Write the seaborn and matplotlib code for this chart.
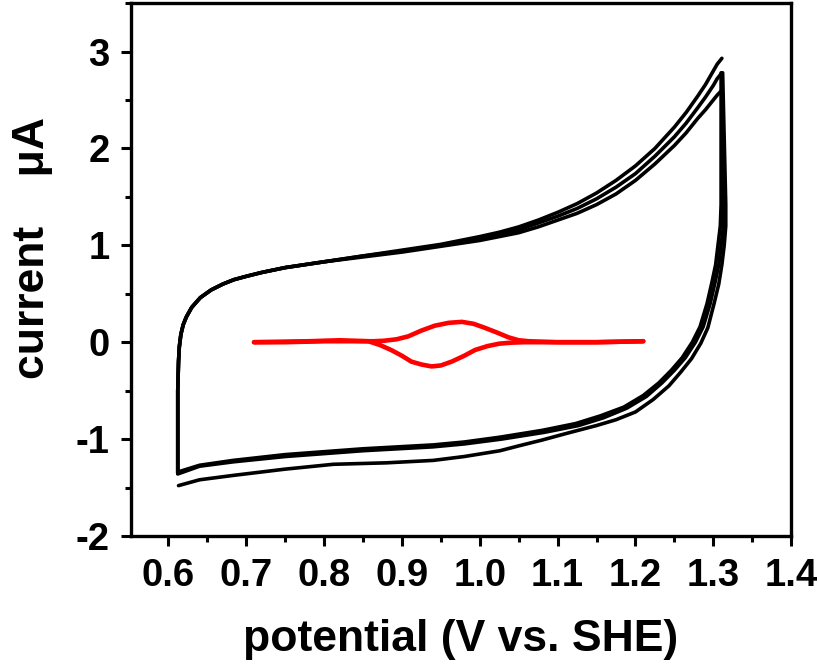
import matplotlib
matplotlib.use('Agg')
import matplotlib.pyplot as plt
import seaborn as sns
from matplotlib.ticker import MultipleLocator

# forward (anodic) scans, three cycles, shared potentials
fwd_x = [0.612, 0.612, 0.613, 0.614, 0.616, 0.619, 0.623, 0.63, 0.641, 0.655, 0.67, 0.684,
         0.70, 0.72, 0.75, 0.8, 0.85, 0.9, 0.95, 1.0, 1.025, 1.05, 1.075, 1.1, 1.125, 1.15,
         1.175, 1.2, 1.225, 1.25, 1.265, 1.28, 1.29, 1.3, 1.305, 1.311]
fwd_y1 = [-1.35, -0.5, -0.2, -0.05, 0.08, 0.18, 0.26, 0.36, 0.46, 0.54, 0.6, 0.645,
          0.68, 0.72, 0.77, 0.83, 0.89, 0.95, 1.01, 1.09, 1.135, 1.19, 1.26, 1.34, 1.43, 1.54,
          1.67, 1.82, 2.0, 2.22, 2.37, 2.54, 2.66, 2.8, 2.87, 2.93]
fwd_y2 = [-1.35, -0.5, -0.2, -0.05, 0.08, 0.18, 0.26, 0.36, 0.46, 0.54, 0.6, 0.645,
          0.68, 0.72, 0.77, 0.83, 0.89, 0.94, 1.0, 1.07, 1.11, 1.16, 1.23, 1.3, 1.38, 1.48,
          1.6, 1.74, 1.92, 2.12, 2.26, 2.42, 2.53, 2.65, 2.72, 2.78]
fwd_y3 = [-1.35, -0.5, -0.2, -0.05, 0.08, 0.18, 0.26, 0.36, 0.46, 0.54, 0.6, 0.645,
          0.68, 0.72, 0.77, 0.83, 0.88, 0.93, 0.99, 1.05, 1.09, 1.13, 1.19, 1.26, 1.33, 1.42,
          1.53, 1.67, 1.84, 2.03, 2.16, 2.31, 2.4, 2.5, 2.55, 2.6]

# reverse (cathodic) scans
rev_x1 = [1.31, 1.31, 1.309, 1.306, 1.303, 1.298, 1.292, 1.283, 1.273, 1.26, 1.246, 1.23,
          1.21, 1.185, 1.155, 1.123, 1.08, 1.026, 0.98, 0.94, 0.85, 0.75, 0.683, 0.64, 0.612]
rev_y1 = [2.78, 1.42, 1.2, 1.0, 0.8, 0.61, 0.4, 0.16, 0.0, -0.16, -0.29, -0.42,
          -0.55, -0.67, -0.76, -0.84, -0.91, -0.98, -1.03, -1.06, -1.1, -1.16, -1.22, -1.27, -1.34]
rev_x2 = [1.311, 1.313, 1.313, 1.31, 1.307, 1.302, 1.296, 1.287, 1.277, 1.264, 1.25, 1.234,
          1.214, 1.189, 1.159, 1.127, 1.083, 1.028, 0.98, 0.94, 0.85, 0.75, 0.683, 0.64, 0.612]
rev_y2 = [2.58, 1.42, 1.2, 1.0, 0.8, 0.61, 0.4, 0.16, 0.0, -0.16, -0.29, -0.42,
          -0.56, -0.68, -0.78, -0.86, -0.93, -1.0, -1.05, -1.08, -1.12, -1.18, -1.235, -1.28, -1.36]
rev_x3 = [1.312, 1.316, 1.316, 1.314, 1.311, 1.307, 1.301, 1.293, 1.284, 1.272, 1.258, 1.243,
          1.223, 1.2, 1.175, 1.15, 1.112, 1.08, 1.05, 1.026, 0.98, 0.94, 0.88, 0.812, 0.75,
          0.683, 0.64, 0.613]
rev_y3 = [2.78, 1.42, 1.2, 1.0, 0.8, 0.6, 0.4, 0.15, -0.01, -0.17, -0.31, -0.45,
          -0.59, -0.72, -0.8, -0.86, -0.94, -1.01, -1.07, -1.12, -1.18, -1.22, -1.245, -1.26, -1.31,
          -1.375, -1.42, -1.48]

# red CV (small redox couple)
red_fwd_x = [0.71, 0.75, 0.8, 0.84, 0.863, 0.877, 0.893, 0.908, 0.925, 0.942, 0.96, 0.977,
             0.992, 1.006, 1.022, 1.037, 1.05, 1.063, 1.1, 1.15, 1.21]
red_fwd_y = [0.0, 0.0, 0.01, 0.01, 0.01, 0.015, 0.03, 0.06, 0.12, 0.17, 0.2, 0.21,
             0.19, 0.15, 0.1, 0.05, 0.02, 0.01, 0.0, 0.0, 0.01]
red_rev_x = [1.21, 1.15, 1.1, 1.057, 1.04, 1.025, 1.01, 0.994, 0.98, 0.964, 0.95, 0.938,
             0.925, 0.912, 0.9, 0.886, 0.872, 0.857, 0.82, 0.78, 0.71]
red_rev_y = [0.01, 0.0, 0.0, 0.0, -0.005, -0.015, -0.04, -0.08, -0.14, -0.2, -0.24, -0.25,
             -0.23, -0.2, -0.14, -0.08, -0.03, 0.01, 0.02, 0.01, 0.0]

sns.set_style('ticks')
plt.rcParams['font.family'] = ['Liberation Sans', 'DejaVu Sans']
plt.rcParams['font.weight'] = 'bold'
plt.rcParams['axes.unicode_minus'] = False
plt.rcParams['text.color'] = 'black'
plt.rcParams['axes.labelcolor'] = 'black'
plt.rcParams['xtick.color'] = 'black'
plt.rcParams['ytick.color'] = 'black'
plt.rcParams['axes.edgecolor'] = 'black'

fig = plt.figure(figsize=(8.19, 6.72), dpi=100)
ax = fig.add_axes([0.160, 0.2024, 0.806, 0.793])

black_runs = [(fwd_x, fwd_y1), (fwd_x, fwd_y2), (fwd_x, fwd_y3),
              (rev_x1, rev_y1), (rev_x2, rev_y2), (rev_x3, rev_y3)]
for xs, ys in black_runs:
    sns.lineplot(x=xs, y=ys, sort=False, estimator=None, color='black', lw=2.6, ax=ax)

sns.lineplot(x=red_fwd_x, y=red_fwd_y, sort=False, estimator=None, color='#ff0000', lw=3.3, ax=ax)
sns.lineplot(x=red_rev_x, y=red_rev_y, sort=False, estimator=None, color='#ff0000', lw=3.3, ax=ax)

ax.set_xlim(0.552, 1.4)
ax.set_ylim(-2, 3.5)
ax.xaxis.set_minor_locator(MultipleLocator(0.05))
ax.yaxis.set_major_locator(MultipleLocator(1))
ax.yaxis.set_minor_locator(MultipleLocator(0.5))
ax.set_xticks([0.6, 0.7, 0.8, 0.9, 1.0, 1.1, 1.2, 1.3, 1.4])
ax.set_xticklabels(['0.6', '0.7', '0.8', '0.9', '1.0', '1.1', '1.2', '1.3', '1.4'])

for s in ax.spines.values():
    s.set_linewidth(2.4)
    s.set_color('black')
    s.set_visible(True)
ax.tick_params(which='major', direction='out', length=7.5, width=2.2, labelsize=27.5, pad=8,
               colors='black')
ax.tick_params(which='minor', direction='out', length=4, width=2.2, colors='black')
ax.tick_params(top=False, right=False, which='both')
for lab in ax.get_xticklabels() + ax.get_yticklabels():
    lab.set_fontweight('bold')

ax.set_xlabel('potential (V vs. SHE)', fontsize=32, fontweight='bold', labelpad=18)
ax.set_ylabel('current    \u03bcA', fontsize=32, fontweight='bold')
ax.yaxis.set_label_coords(-0.118, 0.54)

fig.savefig('out.png', dpi=100)
